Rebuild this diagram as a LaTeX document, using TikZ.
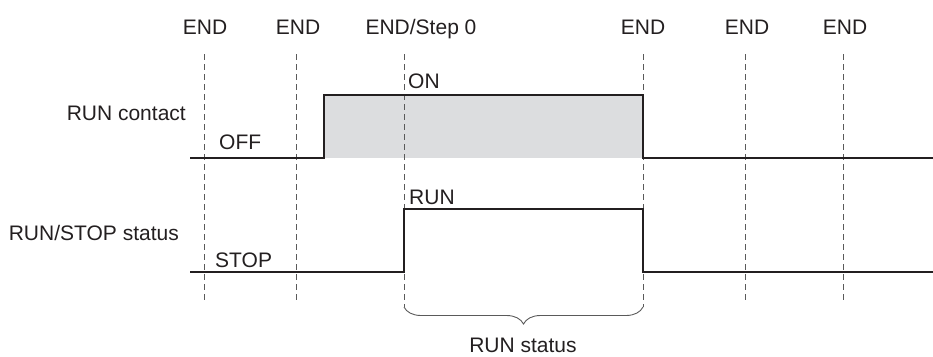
\documentclass[tikz,border=0pt]{standalone}
\usepackage{fontspec}
\setmainfont{Liberation Sans}
\usetikzlibrary{decorations.pathreplacing}
\definecolor{ink}{RGB}{35,31,32}
\definecolor{guide}{RGB}{90,90,90}
\definecolor{fillgray}{RGB}{220,221,223}
\begin{document}
\begin{tikzpicture}[x=1pt,y=-1pt,
  txt/.style={inner sep=0pt,text=ink,font=\fontsize{21}{25}\selectfont},
  wave/.style={draw=ink,line width=2.8pt,line join=miter},
  guideline/.style={draw=guide,line width=0.9pt,dash pattern=on 6pt off 4pt},
  bracestyle/.style={draw=guide,line width=0.9pt,decorate,decoration={brace,mirror,amplitude=17pt}}]
\useasboundingbox (0,0) rectangle (933,356);
% top labels
\node[txt,anchor=base] (e1) at (205,34) {END};
\node[txt,anchor=base] (e2) at (298,34) {END};
\node[txt,anchor=base] (e3) at (421,34) {END/Step 0};
\node[txt,anchor=base] (e4) at (643,34) {END};
\node[txt,anchor=base] (e5) at (747,34) {END};
\node[txt,anchor=base] (e6) at (845,34) {END};
% gray fill
\fill[fillgray] (324,95) rectangle (643,158);
% guide lines
\draw[guideline] (204,54) -- (204,300);
\draw[guideline] (296,54) -- (296,300);
\draw[guideline] (404,54) -- (404,307);
\draw[guideline] (643,54) -- (643,307);
\draw[guideline] (745,54) -- (745,300);
\draw[guideline] (843,54) -- (843,300);
% RUN contact wave
\coordinate (c0) at (190,158);
\coordinate (c1) at (324,158);
\coordinate (c2) at (324,95);
\coordinate (c3) at (643,95);
\coordinate (c4) at (643,158);
\coordinate (c5) at (933,158);
\draw[wave] (c0) -- (c1) -- (c2) -- (c3) -- (c4) -- (c5);
% RUN/STOP wave
\coordinate (s0) at (190,272);
\coordinate (s1) at (404,272);
\coordinate (s2) at (404,209);
\coordinate (s3) at (643,209);
\coordinate (s4) at (643,272);
\coordinate (s5) at (933,272);
\draw[wave] (s0) -- (s1) -- (s2) -- (s3) -- (s4) -- (s5);
% labels
\node[txt,anchor=base east] (lc) at (186,120) {RUN contact};
\node[txt,anchor=base east] (ls) at (179,240) {RUN/STOP status};
\node[txt,anchor=base west] (on) at (408,88) {ON};
\node[txt,anchor=base west] (off) at (219,149) {OFF};
\node[txt,anchor=base west] (run) at (409,204) {RUN};
\node[txt,anchor=base west] (stop) at (215,267) {STOP};
% brace
\coordinate (b1) at (404,307);
\coordinate (b2) at (643,307);
\draw[bracestyle] (b1) -- (b2);
\node[txt,anchor=base] (rs) at (523,352) {RUN status};
\end{tikzpicture}
\end{document}
